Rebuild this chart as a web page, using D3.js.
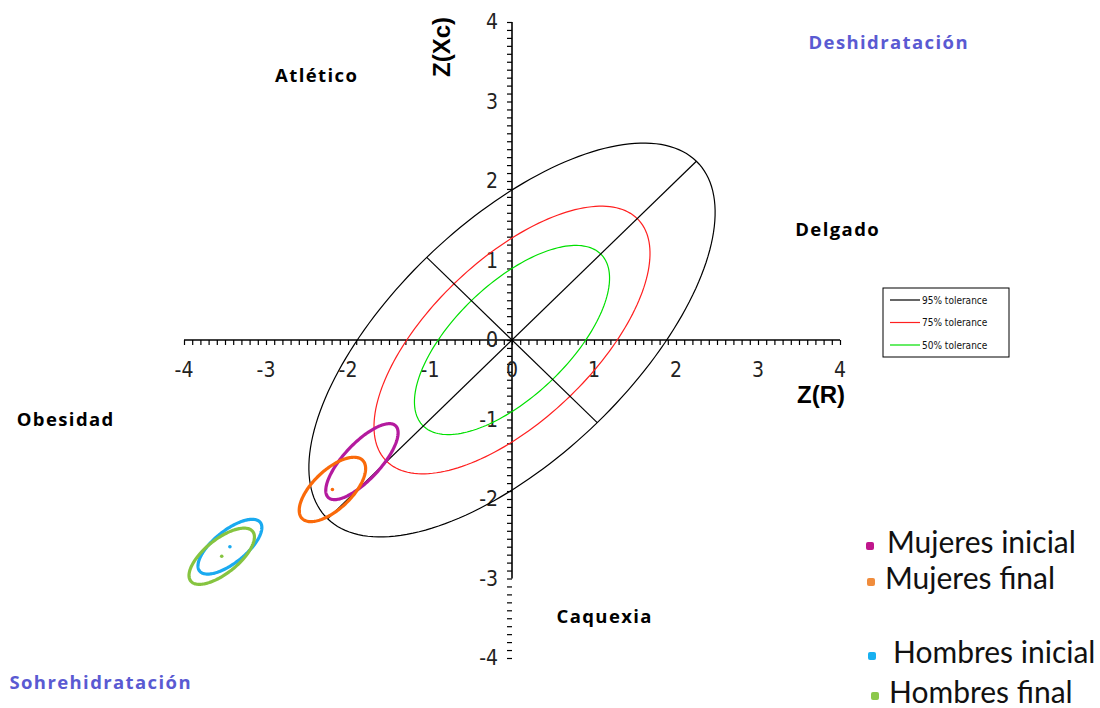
<!DOCTYPE html>
<html><head><meta charset="utf-8">
<script src="https://d3js.org/d3.v7.min.js"></script>
<style>body{margin:0;background:#fff}svg{display:block}</style>
</head><body><svg id="c" width="1100" height="708"></svg>
<script>
// Tolerance ellipses (centered at 0,0, major axis at 45°)
const tolNames = ["95% tolerance","75% tolerance","50% tolerance"];
const tolColors = ["#000000","#ff2020","#00e000"];
const tolSemiMajor = [3.18, 2.16, 1.53];
const tolSemiMinor = [1.47, 1.00, 0.70];
const tolAngle = 45;
// Group confidence ellipses
const groupNames = ["Mujeres inicial","Mujeres final","Hombres inicial","Hombres final"];
const groupColors = ["#b41a9e","#fa6a0a","#1aaaf0","#86c440"];
const legendDotColors = ["#c0168c","#f08c3c","#18b0f0","#8cc84b"];
const groupCx = [-1.83,-2.19,-3.44,-3.54];
const groupCy = [-1.53,-1.88,-2.60,-2.72];
const groupA = [0.61,0.52,0.48,0.49];
const groupB = [0.225,0.24,0.20,0.21];
const groupAngle = [48,45,40,40];
const groupShowCenter = [false,true,true,true];
const tickLabels = [-4,-3,-2,-1,0,1,2,3,4];

const svg = d3.select("#c");
const x = d3.scaleLinear().domain([-4,4]).range([184,840]);
const y = d3.scaleLinear().domain([-4,4]).range([658,22]);

function ellipsePts(cx,cy,a,b,angDeg){
  const th = angDeg*Math.PI/180, pts=[];
  for(let i=0;i<=180;i++){
    const t=i/180*2*Math.PI;
    pts.push([cx + a*Math.cos(th)*Math.cos(t) - b*Math.sin(th)*Math.sin(t),
              cy + a*Math.sin(th)*Math.cos(t) + b*Math.cos(th)*Math.sin(t)]);
  }
  return pts;
}
const line = d3.line().x(d=>x(d[0])).y(d=>y(d[1])).curve(d3.curveLinearClosed);

// Axes
const axG = svg.append("g");
const xAxis = d3.axisBottom(x).tickValues(d3.range(-40,41).map(v=>v/10)).tickSize(5).tickFormat("");
axG.append("g").attr("transform",`translate(0,${y(0)})`).call(xAxis)
  .call(g=>g.select(".domain").attr("stroke","#000").attr("stroke-width",1.6).attr("d",`M${x(-4)},0H${x(4)}`))
  .call(g=>g.selectAll(".tick line").attr("stroke","#000").attr("stroke-width",1.2));
const yAxis = d3.axisLeft(y).tickValues(d3.range(-40,41).map(v=>v/10)).tickSize(5).tickFormat("");
axG.append("g").attr("transform",`translate(${x(0)},0)`).call(yAxis)
  .call(g=>g.select(".domain").attr("stroke","#000").attr("stroke-width",1.6).attr("d",`M0,${y(4)}V${y(-3)}`))
  .call(g=>g.selectAll(".tick line").attr("stroke","#000").attr("stroke-width",1.2));

// tick labels
const tf = "Tahoma, 'DejaVu Sans Condensed', 'Liberation Sans', sans-serif";
svg.append("g").selectAll("text").data(tickLabels).join("text")
  .attr("x",d=>x(d)).attr("y",y(0)+37).attr("text-anchor","middle")
  .attr("font-family",tf).attr("font-size",21).attr("fill","#222").text(d=>d);
svg.append("g").selectAll("text").data(tickLabels).join("text")
  .attr("x",x(0)-14).attr("y",d=>y(d)+7).attr("text-anchor","end")
  .attr("font-family",tf).attr("font-size",21).attr("fill","#222").text(d=>d);

// Axis titles
const af = "'Liberation Sans', Arial, sans-serif";
svg.append("text").attr("x",845).attr("y",403).attr("text-anchor","end")
  .attr("font-family",af).attr("font-weight","bold").attr("font-size",24).text("Z(R)");
svg.append("text").attr("transform","translate(450,47) rotate(-90)").attr("text-anchor","middle")
  .attr("font-family",af).attr("font-weight","bold").attr("font-size",24).text("Z(Xc)");

// Tolerance ellipses
const tg = svg.append("g").attr("fill","none");
tolNames.forEach((n,i)=>{
  tg.append("path").attr("d",line(ellipsePts(0,0,tolSemiMajor[i],tolSemiMinor[i],tolAngle)))
    .attr("stroke",tolColors[i]).attr("stroke-width",1.2);
});
// major & minor axes of 95% ellipse
const th = tolAngle*Math.PI/180;
const A=tolSemiMajor[0], B=tolSemiMinor[0];
tg.append("line").attr("x1",x(-A*Math.cos(th))).attr("y1",y(-A*Math.sin(th)))
  .attr("x2",x(A*Math.cos(th))).attr("y2",y(A*Math.sin(th))).attr("stroke","#000").attr("stroke-width",1.2);
tg.append("line").attr("x1",x(-B*Math.sin(th))).attr("y1",y(B*Math.cos(th)))
  .attr("x2",x(B*Math.sin(th))).attr("y2",y(-B*Math.cos(th))).attr("stroke","#000").attr("stroke-width",1.2);

// Group ellipses
const gg = svg.append("g").attr("fill","none");
groupNames.forEach((n,i)=>{
  gg.append("path").attr("d",line(ellipsePts(groupCx[i],groupCy[i],groupA[i],groupB[i],groupAngle[i])))
    .attr("stroke",groupColors[i]).attr("stroke-width",3.2);
  if(groupShowCenter[i]) svg.append("circle").attr("cx",x(groupCx[i])).attr("cy",y(groupCy[i])).attr("r",1.8).attr("fill",groupColors[i]);
});

// Tolerance legend
const lg = svg.append("g");
lg.append("rect").attr("x",883).attr("y",288).attr("width",126).attr("height",69).attr("fill","#fff").attr("stroke","#000").attr("stroke-width",1);
tolNames.forEach((n,i)=>{
  const yy = 300 + i*22.5;
  lg.append("line").attr("x1",890).attr("x2",920).attr("y1",yy).attr("y2",yy).attr("stroke",tolColors[i]).attr("stroke-width",1.2);
  lg.append("text").attr("x",922).attr("y",yy+3.5).attr("font-family",tf).attr("font-size",10).attr("fill","#111").text(n);
});

// Region labels
const regions = [
  ["Atlético",316,82,"#000"],["Deshidratación",888,49,"#5a5ad2"],["Delgado",837,236,"#000"],
  ["Obesidad",65,426,"#000"],["Caquexia",604,623,"#000"],["Sohrehidratación",100,689,"#5a5ad2"]
];
svg.append("g").selectAll("text").data(regions).join("text")
  .attr("x",d=>d[1]+0.7).attr("y",d=>d[2]).attr("text-anchor","middle")
  .attr("font-family","'Open Sans', sans-serif").attr("font-weight","bold").attr("font-size",18.5)
  .attr("letter-spacing",1.4)
  .attr("fill",d=>d[3]).text(d=>d[0]);

// Group legend
const legX = [870,871,872,875], legTX=[887,885,893,889], legY=[546,582,656,696];
groupNames.forEach((n,i)=>{
  svg.append("rect").attr("x",legX[i]-4).attr("y",legY[i]-4).attr("width",8).attr("height",8).attr("rx",2).attr("fill",legendDotColors[i]);
  svg.append("text").attr("x",legTX[i]).attr("y",legY[i]+7).attr("font-family","Lato, Carlito, 'Open Sans', sans-serif")
    .attr("font-size",30).attr("fill","#111").text(n);
});
</script></body></html>
